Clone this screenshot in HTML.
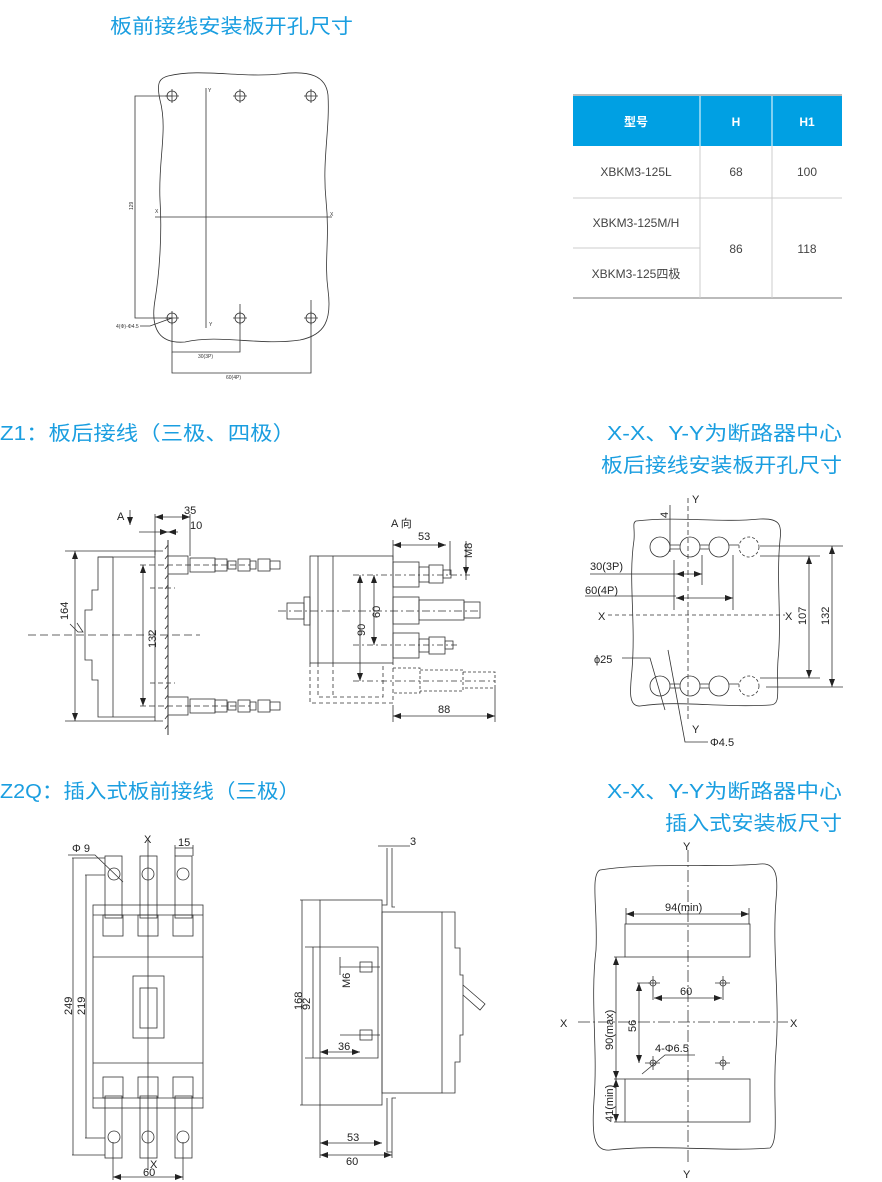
<!DOCTYPE html>
<html><head><meta charset="utf-8"><style>
html,body{margin:0;padding:0;background:#fff;}
svg{display:block;}
.t{font-family:"Liberation Sans","Noto Sans CJK SC",sans-serif;fill:#1a9ee0;font-size:20px;}
.d{font-family:"Liberation Sans","Noto Sans CJK SC",sans-serif;fill:#222;font-size:11px;}
.s{font-family:"Liberation Sans",sans-serif;fill:#333;font-size:5px;}
.tb{font-family:"Liberation Sans","Noto Sans CJK SC",sans-serif;font-size:12px;fill:#444;}
</style></head><body>
<svg width="882" height="1182" viewBox="0 0 882 1182" xmlns="http://www.w3.org/2000/svg">
<defs>
<marker id="a" markerWidth="8" markerHeight="6" refX="8" refY="3" orient="auto-start-reverse" markerUnits="userSpaceOnUse"><path d="M0,0 L8,3 L0,6z" fill="#222"/></marker>
</defs>
<g fill="none" stroke="#333" stroke-width="0.8">

<text class="t" x="110" y="33" stroke="none" textLength="243" lengthAdjust="spacingAndGlyphs">板前接线安装板开孔尺寸</text>
<text class="t" x="0" y="440" stroke="none" textLength="295" lengthAdjust="spacingAndGlyphs">Z1：板后接线（三极、四极）</text>
<text class="t" x="607" y="440" stroke="none" textLength="235" lengthAdjust="spacingAndGlyphs">X-X、Y-Y为断路器中心</text>
<text class="t" x="601" y="472" stroke="none" textLength="241" lengthAdjust="spacingAndGlyphs">板后接线安装板开孔尺寸</text>
<text class="t" x="0" y="798" stroke="none" textLength="300" lengthAdjust="spacingAndGlyphs">Z2Q：插入式板前接线（三极）</text>
<text class="t" x="607" y="798" stroke="none" textLength="235" lengthAdjust="spacingAndGlyphs">X-X、Y-Y为断路器中心</text>
<text class="t" x="665" y="830" stroke="none" textLength="177" lengthAdjust="spacingAndGlyphs">插入式安装板尺寸</text>

<rect x="573" y="96" width="269" height="50" fill="#00a0e3" stroke="none"/>
<line x1="573" y1="95" x2="842" y2="95" stroke="#bbb" stroke-width="2"/>
<line x1="573" y1="298" x2="842" y2="298" stroke="#bbb" stroke-width="2"/>
<g stroke="#ccc" stroke-width="1">
<line x1="700" y1="96" x2="700" y2="298" stroke="#fff"/>
<line x1="772" y1="96" x2="772" y2="146" stroke="#fff"/>
<line x1="700" y1="146" x2="700" y2="298"/>
<line x1="772" y1="146" x2="772" y2="298"/>
<line x1="573" y1="198" x2="842" y2="198"/>
<line x1="573" y1="248" x2="700" y2="248"/>
</g>
<g stroke="none" text-anchor="middle">
<text class="tb" x="636" y="126" style="fill:#fff;font-weight:bold">型号</text>
<text class="tb" x="736" y="126" style="fill:#fff;font-weight:bold">H</text>
<text class="tb" x="807" y="126" style="fill:#fff;font-weight:bold">H1</text>
<text class="tb" x="636" y="176">XBKM3-125L</text>
<text class="tb" x="736" y="176">68</text>
<text class="tb" x="807" y="176">100</text>
<text class="tb" x="636" y="227">XBKM3-125M/H</text>
<text class="tb" x="636" y="278">XBKM3-125四极</text>
<text class="tb" x="736" y="253">86</text>
<text class="tb" x="807" y="253">118</text>
</g>

<path d="M168,76 C200,68 240,78 280,74 C310,70 326,76 328,95 C330,130 322,160 326,200 C330,240 324,260 328,290 C332,320 325,335 300,340 C260,346 220,334 185,342 C160,344 150,330 155,300 C160,270 162,230 160,200 C158,160 168,130 160,100 C156,82 160,78 168,76Z"/>
<line x1="206" y1="88" x2="206" y2="328"/>
<line x1="155" y1="217" x2="332" y2="217"/>
<text class="s" x="208" y="92" stroke="none">Y</text><text class="s" x="209" y="326" stroke="none">Y</text>
<text class="s" x="155" y="213" stroke="none">X</text><text class="s" x="330" y="216" stroke="none">X</text>
<g>
<circle cx="172" cy="96" r="5"/><circle cx="240" cy="96" r="5"/><circle cx="311" cy="96" r="5"/>
<circle cx="172" cy="318" r="5"/><circle cx="240" cy="318" r="5"/><circle cx="311" cy="318" r="5"/>
<path d="M165,96h14M172,89v14M233,96h14M240,89v14M304,96h14M311,89v14M165,318h14M172,311v14M233,318h14M240,311v14M304,318h14M311,311v14"/>
</g>
<path d="M172,96 H135 V318 H172"/>
<text class="s" x="133" y="210" stroke="none" transform="rotate(-90 133 210)">129</text>
<path d="M172,318 V352 H240 V304"/>
<path d="M172,352 V373 H311 V300"/>
<path d="M140,326 H150 L172,318"/>
<text class="s" x="116" y="328" stroke="none">4(Φ)-Φ4.5</text>
<text class="s" x="198" y="358" stroke="none">30(3P)</text>
<text class="s" x="226" y="379" stroke="none">60(4P)</text>

<path d="M65,551 H163 M65,721 H163"/>
<line x1="75" y1="551" x2="75" y2="721" marker-start="url(#a)" marker-end="url(#a)"/>
<text class="d" x="68" y="620" stroke="none" transform="rotate(-90 68 620)">164</text>
<path d="M113,557 H98 V590 H92 V610 H85 V660 H92 V680 H98 V717 H155"/>
<path d="M98,557 H155 M113,557 V717"/>
<path d="M70,624 L78,632 L83,632 L77,623"/>
<path d="M28,635 H200" stroke-dasharray="8,4"/>
<line x1="155" y1="551" x2="155" y2="721"/>
<path d="M168,540 V735" stroke-width="1"/>
<path d="M168,545 l-3,4 M168,555 l-3,4 M168,565 l-3,4 M168,575 l-3,4 M168,585 l-3,4 M168,595 l-3,4 M168,605 l-3,4 M168,615 l-3,4 M168,625 l-3,4 M168,635 l-3,4 M168,645 l-3,4 M168,655 l-3,4 M168,665 l-3,4 M168,675 l-3,4 M168,685 l-3,4 M168,695 l-3,4 M168,705 l-3,4 M168,715 l-3,4 M168,725 l-3,4"/>
<line x1="143" y1="565" x2="143" y2="706" marker-start="url(#a)" marker-end="url(#a)"/>
<path d="M140,565 H250 M140,706 H250" stroke-dasharray="6,3"/>
<text class="d" x="156" y="648" stroke="none" transform="rotate(-90 156 648)">132</text>
<path d="M150,588 H175 M150,683 H175" stroke-dasharray="5,3"/>
<g>
<rect x="168" y="556" width="20" height="18"/><rect x="168" y="697" width="20" height="18"/>
<rect x="190" y="558" width="25" height="14"/><rect x="190" y="699" width="25" height="14"/>
<rect x="215" y="559" width="12" height="12"/><rect x="215" y="700" width="12" height="12"/>
<rect x="228" y="561" width="8" height="8"/><rect x="228" y="702" width="8" height="8"/>
<rect x="238" y="559" width="12" height="12"/><rect x="238" y="700" width="12" height="12"/>
<rect x="250" y="561" width="6" height="8"/><rect x="250" y="702" width="6" height="8"/>
<rect x="258" y="559" width="12" height="12"/><rect x="258" y="700" width="12" height="12"/>
<rect x="270" y="561" width="10" height="8"/><rect x="270" y="702" width="10" height="8"/>
</g>
<path d="M155,514 V555 M190,514 V556"/>
<line x1="155" y1="517" x2="190" y2="517" marker-start="url(#a)" marker-end="url(#a)"/>
<text class="d" x="184" y="514" stroke="none">35</text>
<line x1="139" y1="532" x2="168" y2="532" marker-end="url(#a)"/>
<line x1="178" y1="532" x2="168" y2="532" marker-end="url(#a)"/>
<text class="d" x="190" y="529" stroke="none">10</text>
<text class="d" x="117" y="520" stroke="none">A</text>
<line x1="130" y1="510" x2="130" y2="525" marker-end="url(#a)"/>

<text class="d" x="391" y="527" stroke="none">A 向</text>
<rect x="310" y="556" width="83" height="107"/>
<line x1="318" y1="556" x2="318" y2="663"/><line x1="333" y1="556" x2="333" y2="663"/>
<rect x="304" y="597" width="6" height="28"/>
<rect x="287" y="603" width="17" height="16"/>
<path d="M278,611 H480" stroke-dasharray="8,3,2,3"/>
<rect x="393" y="562" width="26" height="25"/><rect x="419" y="567" width="10" height="15"/>
<rect x="429" y="565" width="14" height="18"/><rect x="443" y="570" width="8" height="8"/>
<rect x="393" y="597" width="26" height="27"/><rect x="419" y="600" width="45" height="20"/>
<rect x="464" y="602" width="16" height="16"/>
<rect x="393" y="633" width="26" height="25"/><rect x="419" y="639" width="10" height="13"/>
<rect x="429" y="637" width="16" height="17"/><rect x="445" y="641" width="8" height="8"/>
<path d="M353,575 H470 M353,645 H460 M353,681 H495" stroke-dasharray="6,3,2,3"/>
<path d="M310,663 V703 H393 V663 M318,663 V697 H383 V663 M333,663 V697" stroke-dasharray="4,3"/>
<path d="M393,668 H420 V693 H393 M420,670 H463 V691 H420 M463,672 H495 V688 H463" stroke-dasharray="3,2"/>
<line x1="360" y1="575" x2="360" y2="681" marker-start="url(#a)" marker-end="url(#a)"/>
<line x1="374" y1="575" x2="374" y2="645" marker-start="url(#a)" marker-end="url(#a)"/>
<text class="d" x="365" y="636" stroke="none" transform="rotate(-90 365 636)">90</text>
<text class="d" x="380" y="618" stroke="none" transform="rotate(-90 380 618)">60</text>
<path d="M393,540 V560 M495,688 V722 M393,705 V722"/>
<line x1="393" y1="545" x2="446" y2="545" marker-start="url(#a)" marker-end="url(#a)"/>
<text class="d" x="418" y="540" stroke="none">53</text>
<line x1="393" y1="716" x2="495" y2="716" marker-start="url(#a)" marker-end="url(#a)"/>
<text class="d" x="438" y="713" stroke="none">88</text>
<path d="M450,541 V575 M466,541 V580"/>
<line x1="466" y1="565" x2="466" y2="575" marker-end="url(#a)"/>
<text class="d" x="472" y="558" stroke="none" transform="rotate(-90 472 558)">M8</text>

<path d="M636,521 C680,516 720,523 760,519 C780,518 782,525 780,540 C776,580 782,620 778,660 C776,690 782,705 770,705 C720,708 680,700 640,706 C628,707 630,690 632,670 C636,620 628,580 634,540 C635,528 632,523 636,521Z"/>
<path d="M688,498 V720" stroke-dasharray="5,3"/>
<text class="d" x="692" y="503" stroke="none">Y</text>
<text class="d" x="692" y="733" stroke="none">Y</text>
<path d="M608,615 H785" stroke-dasharray="4,3"/>
<text class="d" x="598" y="620" stroke="none">X</text><text class="d" x="785" y="620" stroke="none">X</text>
<g>
<circle cx="660" cy="547" r="10"/><circle cx="690" cy="547" r="10"/><circle cx="719" cy="547" r="10"/>
<circle cx="749" cy="547" r="10" stroke-dasharray="3,2"/>
<circle cx="660" cy="686" r="10"/><circle cx="690" cy="686" r="10"/><circle cx="719" cy="686" r="10"/>
<circle cx="749" cy="686" r="10" stroke-dasharray="3,2"/>
<path d="M670,545 H680 M670,549 H680 M700,545 H709 M700,549 H709 M729,545 H739 M670,684 H680 M670,688 H680 M700,684 H709 M700,688 H709 M729,684 H739"/>
</g>
<path d="M674,560 V610 M702,555 V585 M733,555 V610"/>
<path d="M590,574 H676 M585,596 H676"/>
<line x1="676" y1="574" x2="702" y2="574" marker-start="url(#a)" marker-end="url(#a)"/>
<line x1="676" y1="598" x2="733" y2="598" marker-start="url(#a)" marker-end="url(#a)"/>
<text class="d" x="590" y="570" stroke="none">30(3P)</text>
<text class="d" x="585" y="594" stroke="none">60(4P)</text>
<path d="M670,505 V552"/>
<text class="d" x="668" y="518" stroke="none" transform="rotate(-90 668 518)">4</text>
<path d="M760,546 H843 M760,556 H820 M760,678 H820 M766,687 H843"/>
<line x1="809" y1="556" x2="809" y2="678" marker-start="url(#a)" marker-end="url(#a)"/>
<line x1="832" y1="546" x2="832" y2="687" marker-start="url(#a)" marker-end="url(#a)"/>
<text class="d" x="806" y="625" stroke="none" transform="rotate(-90 806 625)">107</text>
<text class="d" x="829" y="625" stroke="none" transform="rotate(-90 829 625)">132</text>
<text class="d" x="594" y="663" stroke="none">ϕ25</text>
<path d="M622,658 H650 L665,710"/>
<path d="M668,650 L685,742 H708"/>
<text class="d" x="710" y="746" stroke="none">Φ4.5</text>

<rect x="93" y="905" width="110" height="203"/>
<path d="M93,915 H203 M93,957 H203 M93,1063 H203 M93,1098 H203"/>
<rect x="103" y="915" width="20" height="21"/><rect x="138" y="915" width="20" height="21"/><rect x="173" y="915" width="20" height="21"/>
<rect x="103" y="1077" width="20" height="21"/><rect x="138" y="1077" width="20" height="21"/><rect x="173" y="1077" width="20" height="21"/>
<rect x="105" y="856" width="17" height="62"/><rect x="140" y="856" width="17" height="62"/><rect x="175" y="856" width="17" height="62"/>
<rect x="105" y="1096" width="17" height="62"/><rect x="140" y="1096" width="17" height="62"/><rect x="175" y="1096" width="17" height="62"/>
<circle cx="114" cy="874" r="6"/><circle cx="148" cy="874" r="6"/><circle cx="183" cy="874" r="6"/>
<circle cx="114" cy="1137" r="6"/><circle cx="148" cy="1137" r="6"/><circle cx="183" cy="1137" r="6"/>
<rect x="133" y="976" width="31" height="62"/><rect x="140" y="988" width="17" height="40"/>
<line x1="148" y1="840" x2="148" y2="1170"/>
<text class="d" x="144" y="843" stroke="none">X</text>
<text class="d" x="150" y="1168" stroke="none">X</text>
<path d="M72,858 H105 M85,875 H105 M72,1155 H105 M85,1138 H105"/>
<line x1="73" y1="858" x2="73" y2="1155"/><line x1="86" y1="875" x2="86" y2="1138"/>
<text class="d" x="72" y="1015" stroke="none" transform="rotate(-90 72 1015)">249</text>
<text class="d" x="85" y="1015" stroke="none" transform="rotate(-90 85 1015)">219</text>
<text class="d" x="72" y="852" stroke="none">Φ 9</text>
<path d="M68,855 H95 L123,882"/>
<path d="M175,845 V856 M193,845 V856 M175,848 H193"/>
<text class="d" x="178" y="846" stroke="none">15</text>
<path d="M113,1142 V1180 M183,1142 V1180"/>
<line x1="113" y1="1177" x2="183" y2="1177" marker-start="url(#a)" marker-end="url(#a)"/>
<text class="d" x="143" y="1176" stroke="none">60</text>

<rect x="320" y="900" width="62" height="205"/>
<path d="M305,947 H378 V1058 H305"/>
<rect x="382" y="912" width="60" height="181"/>
<path d="M442,912 H455 V948 H460 V975 H463 V1035 H460 V1062 H455 V1093 H442"/>
<path d="M463,985 L485,1004 L480,1010 L463,995"/>
<path d="M387,848 V905 H382 M392,848 V907 H395 M387,1098 V1152 H392 V1098 H396"/>
<path d="M300,900 H320 M300,1105 H320"/>
<line x1="302" y1="900" x2="302" y2="1105"/>
<line x1="313" y1="947" x2="313" y2="1058"/>
<text class="d" x="302" y="1010" stroke="none" transform="rotate(-90 302 1010)">168</text>
<text class="d" x="310" y="1010" stroke="none" transform="rotate(-90 310 1010)">92</text>
<rect x="360" y="962" width="12" height="10"/><rect x="360" y="1030" width="12" height="10"/>
<path d="M340,967 H380 M340,1035 H380 M340,957 V975"/>
<text class="d" x="350" y="988" stroke="none" transform="rotate(-90 350 988)">M6</text>
<line x1="320" y1="1052" x2="360" y2="1052" marker-start="url(#a)" marker-end="url(#a)"/>
<text class="d" x="338" y="1050" stroke="none">36</text>
<line x1="320" y1="1143" x2="382" y2="1143" marker-start="url(#a)" marker-end="url(#a)"/>
<line x1="320" y1="1155" x2="392" y2="1155" marker-start="url(#a)" marker-end="url(#a)"/>
<path d="M320,1105 V1158 M392,1152 V1158"/>
<text class="d" x="347" y="1141" stroke="none">53</text>
<text class="d" x="346" y="1165" stroke="none">60</text>
<path d="M378,846 H410 M387,846 H395"/>
<text class="d" x="410" y="845" stroke="none">3</text>

<path d="M600,870 C650,862 720,868 760,864 C778,862 778,880 776,900 C772,950 780,1000 776,1050 C772,1100 780,1140 770,1148 C720,1152 660,1144 610,1150 C592,1152 592,1130 594,1100 C598,1050 590,1000 596,950 C598,910 590,875 600,870Z"/>
<line x1="688" y1="850" x2="688" y2="1163" stroke-dasharray="12,3,2,3"/>
<text class="d" x="683" y="850" stroke="none">Y</text><text class="d" x="683" y="1178" stroke="none">Y</text>
<line x1="578" y1="1022" x2="788" y2="1022" stroke-dasharray="12,3,2,3"/>
<text class="d" x="560" y="1027" stroke="none">X</text><text class="d" x="790" y="1027" stroke="none">X</text>
<rect x="625" y="924" width="125" height="33"/>
<rect x="625" y="1079" width="125" height="43"/>
<line x1="626" y1="914" x2="749" y2="914" marker-start="url(#a)" marker-end="url(#a)"/>
<path d="M626,908 V924 M749,908 V924"/>
<text class="d" x="665" y="911" stroke="none">94(min)</text>
<circle cx="653" cy="983" r="3"/><circle cx="723" cy="983" r="3"/><circle cx="653" cy="1063" r="3"/><circle cx="723" cy="1063" r="3"/>
<path d="M648,983 H660 M653,976 V1000 M715,983 H730 M723,976 V1000 M645,1063 H660 M653,1056 V1070 M715,1063 H730 M723,1056 V1070"/>
<line x1="654" y1="998" x2="722" y2="998" marker-start="url(#a)" marker-end="url(#a)"/>
<text class="d" x="680" y="995" stroke="none">60</text>
<path d="M637,983 H650 M614,957 H625 M614,1079 H625 M614,1122 H625"/>
<line x1="639" y1="983" x2="639" y2="1063" marker-start="url(#a)" marker-end="url(#a)"/>
<text class="d" x="636" y="1032" stroke="none" transform="rotate(-90 636 1032)">56</text>
<line x1="616" y1="957" x2="616" y2="1079" marker-start="url(#a)" marker-end="url(#a)"/>
<line x1="616" y1="1079" x2="616" y2="1122" marker-start="url(#a)" marker-end="url(#a)"/>
<text class="d" x="613" y="1050" stroke="none" transform="rotate(-90 613 1050)">90(max)</text>
<text class="d" x="613" y="1122" stroke="none" transform="rotate(-90 613 1122)">41(min)</text>
<path d="M642,1074 L665,1055 H695"/>
<text class="d" x="655" y="1052" stroke="none">4-Φ6.5</text>
</g>
</svg>
</body></html>
